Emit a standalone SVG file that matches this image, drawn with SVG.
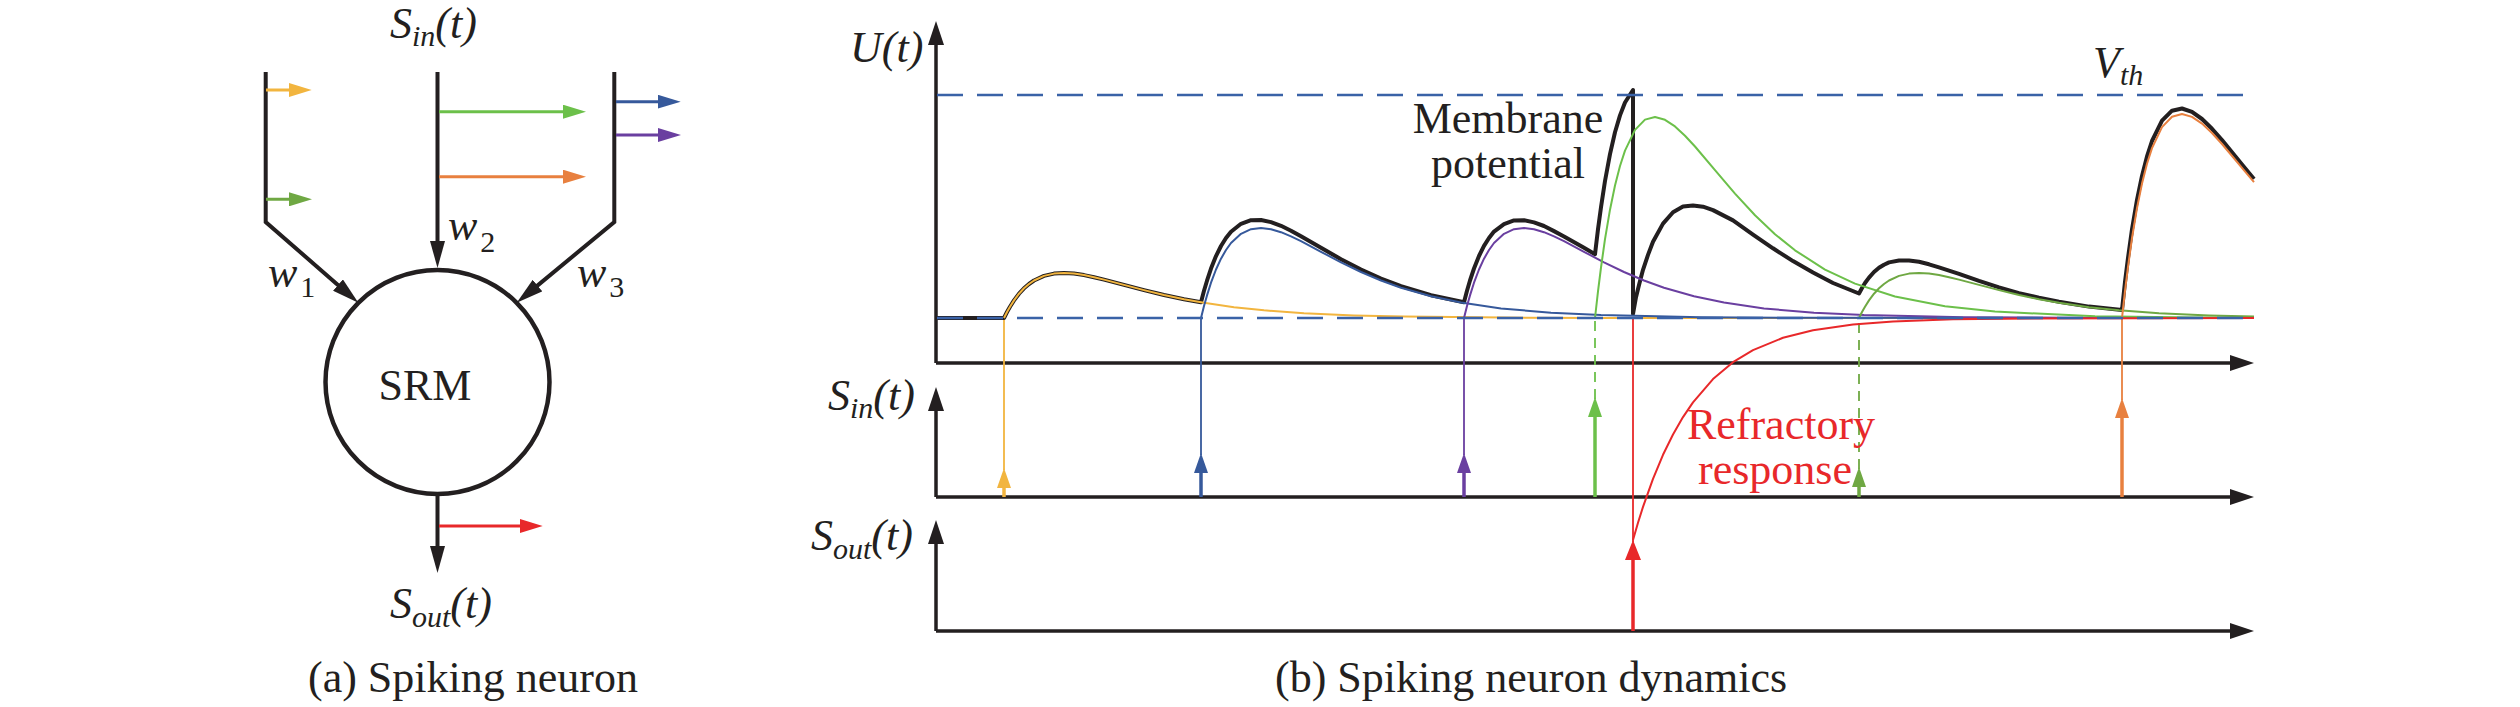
<svg xmlns="http://www.w3.org/2000/svg" width="2520" height="707" viewBox="0 0 2520 707">
<style>
.t{font-family:"Liberation Serif","Times New Roman",serif;fill:#231f20;font-size:44px}
.it{font-style:italic}
.sub{font-size:30px}
.up{font-style:normal}
.red{fill:#e8282a}
.blk{stroke:#231f20;fill:none}
.ax{stroke:#231f20;stroke-width:3.5;fill:none}
.cv{fill:none;stroke-width:2;stroke-linejoin:round}
.dash{fill:none;stroke:#3a62a7;stroke-width:2.6;stroke-dasharray:26 14}
</style>
<defs>
<marker id="mAx" markerUnits="userSpaceOnUse" markerWidth="24" markerHeight="16" refX="14" refY="8" orient="auto"><path d="M0,0 L24,8 L0,16 z" fill="#231f20"/></marker>
<marker id="mBk" markerUnits="userSpaceOnUse" markerWidth="27" markerHeight="15" refX="17" refY="7.5" orient="auto"><path d="M0,0 L27,7.5 L0,15 z" fill="#231f20"/></marker>
<marker id="cY" markerUnits="userSpaceOnUse" markerWidth="23" markerHeight="14" refX="13" refY="7" orient="auto"><path d="M0,0 L23,7 L0,14 z" fill="#f2b53f"/></marker>
<marker id="cG" markerUnits="userSpaceOnUse" markerWidth="23" markerHeight="14" refX="13" refY="7" orient="auto"><path d="M0,0 L23,7 L0,14 z" fill="#6fa843"/></marker>
<marker id="cL" markerUnits="userSpaceOnUse" markerWidth="23" markerHeight="14" refX="13" refY="7" orient="auto"><path d="M0,0 L23,7 L0,14 z" fill="#6cc04a"/></marker>
<marker id="cO" markerUnits="userSpaceOnUse" markerWidth="23" markerHeight="14" refX="13" refY="7" orient="auto"><path d="M0,0 L23,7 L0,14 z" fill="#e8803f"/></marker>
<marker id="cB" markerUnits="userSpaceOnUse" markerWidth="23" markerHeight="14" refX="13" refY="7" orient="auto"><path d="M0,0 L23,7 L0,14 z" fill="#36599b"/></marker>
<marker id="cP" markerUnits="userSpaceOnUse" markerWidth="23" markerHeight="14" refX="13" refY="7" orient="auto"><path d="M0,0 L23,7 L0,14 z" fill="#6a3fa0"/></marker>
<marker id="cR" markerUnits="userSpaceOnUse" markerWidth="23" markerHeight="14" refX="13" refY="7" orient="auto"><path d="M0,0 L23,7 L0,14 z" fill="#e8282a"/></marker>
<marker id="sY" markerUnits="userSpaceOnUse" markerWidth="20" markerHeight="14" refX="10" refY="7" orient="auto"><path d="M0,0 L20,7 L0,14 z" fill="#f2b53f"/></marker>
<marker id="sB" markerUnits="userSpaceOnUse" markerWidth="20" markerHeight="14" refX="10" refY="7" orient="auto"><path d="M0,0 L20,7 L0,14 z" fill="#36599b"/></marker>
<marker id="sP" markerUnits="userSpaceOnUse" markerWidth="20" markerHeight="14" refX="10" refY="7" orient="auto"><path d="M0,0 L20,7 L0,14 z" fill="#6a3fa0"/></marker>
<marker id="sL" markerUnits="userSpaceOnUse" markerWidth="20" markerHeight="14" refX="10" refY="7" orient="auto"><path d="M0,0 L20,7 L0,14 z" fill="#6cc04a"/></marker>
<marker id="sG" markerUnits="userSpaceOnUse" markerWidth="20" markerHeight="14" refX="10" refY="7" orient="auto"><path d="M0,0 L20,7 L0,14 z" fill="#6fa843"/></marker>
<marker id="sO" markerUnits="userSpaceOnUse" markerWidth="20" markerHeight="14" refX="10" refY="7" orient="auto"><path d="M0,0 L20,7 L0,14 z" fill="#e8803f"/></marker>
<marker id="sR" markerUnits="userSpaceOnUse" markerWidth="20" markerHeight="16" refX="10" refY="8" orient="auto"><path d="M0,0 L20,8 L0,16 z" fill="#e8282a"/></marker>
</defs>
<rect width="2520" height="707" fill="#ffffff"/>

<!-- Panel (a) -->
<g id="panel-a">
  <g id="neuron">
    <circle cx="437.5" cy="382" r="112" fill="none" stroke="#231f20" stroke-width="4.5"/>
    <text class="t" x="425" y="400" text-anchor="middle">SRM</text>
  </g>
  <g id="connectors-a" class="blk" stroke-width="4">
    <polyline points="265.7,72 265.7,222 350.8,296.2" marker-end="url(#mBk)"/>
    <line x1="437.5" y1="72" x2="437.5" y2="258" marker-end="url(#mBk)"/>
    <polyline points="614.3,72 614.3,222 524.4,296.4" marker-end="url(#mBk)"/>
    <line x1="437.5" y1="494" x2="437.5" y2="563" marker-end="url(#mBk)"/>
  </g>
  <g id="spike-arrows-a" fill="none" stroke-width="3">
    <line x1="266" y1="90" x2="301.7" y2="90" stroke="#f2b53f" marker-end="url(#cY)"/>
    <line x1="266" y1="199.3" x2="302" y2="199.3" stroke="#6fa843" marker-end="url(#cG)"/>
    <line x1="439" y1="111.7" x2="576" y2="111.7" stroke="#6cc04a" marker-end="url(#cL)"/>
    <line x1="439" y1="176.7" x2="576" y2="176.7" stroke="#e8803f" marker-end="url(#cO)"/>
    <line x1="616" y1="101.7" x2="670.7" y2="101.7" stroke="#36599b" marker-end="url(#cB)"/>
    <line x1="616" y1="135" x2="671" y2="135" stroke="#6a3fa0" marker-end="url(#cP)"/>
    <line x1="439" y1="526" x2="532.7" y2="526" stroke="#e8282a" marker-end="url(#cR)"/>
  </g>
  <g id="labels-a">
    <text class="t it" x="390" y="38">S<tspan class="sub" dy="8">in</tspan><tspan dy="-8">(t)</tspan></text>
    <text class="t it" x="268" y="287">w<tspan class="sub up" dx="3" dy="10">1</tspan></text>
    <text class="t it" x="448" y="240">w<tspan class="sub up" dx="3" dy="12">2</tspan></text>
    <text class="t it" x="577" y="287">w<tspan class="sub up" dx="3" dy="10">3</tspan></text>
    <text class="t it" x="390" y="618">S<tspan class="sub" dy="9">out</tspan><tspan dy="-9">(t)</tspan></text>
    <text class="t" x="308" y="692">(a) Spiking neuron</text>
  </g>
</g>

<!-- Panel (b) -->
<g id="panel-b">
  <g id="axes">
    <path class="ax" d="M936,363 V31" marker-end="url(#mAx)"/>
    <path class="ax" d="M936,363 H2244" marker-end="url(#mAx)"/>
    <path class="ax" d="M936,497 V397" marker-end="url(#mAx)"/>
    <path class="ax" d="M936,497 H2244" marker-end="url(#mAx)"/>
    <path class="ax" d="M936,631 V530" marker-end="url(#mAx)"/>
    <path class="ax" d="M936,631 H2244" marker-end="url(#mAx)"/>
  </g>
  <g id="spikes" fill="none">
    <path d="M1004,497 V478" stroke="#f2b53f" stroke-width="3.5" marker-end="url(#sY)"/>
    <path d="M1004,470 V318" stroke="#f2b53f" stroke-width="1.8"/>
    <path d="M1201,497 V463" stroke="#36599b" stroke-width="3.5" marker-end="url(#sB)"/>
    <path d="M1201,455 V318" stroke="#36599b" stroke-width="1.8"/>
    <path d="M1464,497 V463" stroke="#6a3fa0" stroke-width="3.5" marker-end="url(#sP)"/>
    <path d="M1464,455 V318" stroke="#6a3fa0" stroke-width="1.8"/>
    <path d="M1595,497 V407" stroke="#6cc04a" stroke-width="3.5" marker-end="url(#sL)"/>
    <path d="M1595,399 V318" stroke="#6cc04a" stroke-width="1.8" stroke-dasharray="10 7"/>
    <path d="M1859,497 V477" stroke="#6fa843" stroke-width="3.5" marker-end="url(#sG)"/>
    <path d="M1859,469 V318" stroke="#6fa843" stroke-width="1.8" stroke-dasharray="10 7"/>
    <path d="M2122,497 V408" stroke="#e8803f" stroke-width="3.5" marker-end="url(#sO)"/>
    <path d="M2122,400 V318" stroke="#e8803f" stroke-width="1.8"/>
    <path d="M1633,631 V550" stroke="#e8282a" stroke-width="3.5" marker-end="url(#sR)"/>
    <path d="M1633,542 V318" stroke="#e8282a" stroke-width="1.8"/>
  </g>
  <g id="membrane-potential">
    <polyline fill="none" stroke="#231f20" stroke-width="4" stroke-linejoin="round" points="937,318 1004,318 1007,312.0 1010,306.7 1014,300.4 1019,293.7 1024,288.3 1029,284.0 1034,280.5 1044,275.9 1054,273.6 1064,273.0 1074,273.6 1084,275.1 1094,277.2 1104,279.6 1124,284.9 1144,290.1 1164,295.0 1184,299.2 1201,302.3 1204,290.8 1207,280.7 1211,268.6 1216,256.1 1221,246.0 1226,238.0 1231,231.7 1241,223.8 1251,220.2 1261,220.0 1271,222.1 1281,225.8 1291,230.7 1301,236.2 1321,247.8 1341,259.2 1361,269.6 1381,278.6 1401,286.2 1431,295.2 1464,302.3 1467,290.7 1470,280.5 1474,268.5 1479,256.0 1484,245.9 1489,238.0 1494,231.6 1504,224.1 1514,220.4 1524,220.2 1534,222.4 1544,226.0 1554,231.1 1564,236.4 1584,247.8 1595,254.2 1598,229.2 1601,207.2 1605,181 1610,154.1 1615,132.3 1620,115.4 1625,102.5 1633,90 1633,314 1636,297.2 1639,285.1 1643,269.8 1648,254.9 1653,241.8 1663,223.6 1673,212.2 1683,206.6 1693,205.4 1703,206.7 1713,210.1 1733,220.4 1753,234.6 1773,248.3 1793,261.1 1813,272.6 1833,283 1859,293.5 1862,288 1865,283 1869,277.6 1874,272 1879,267.8 1884,264.7 1889,262.4 1899,260.5 1909,260.4 1919,261.8 1929,264.3 1939,267.4 1949,270.6 1959,273.8 1979,280.9 1999,287.3 2019,293.1 2039,297.8 2059,301.7 2089,306.6 2122,310 2125,282 2128,258 2132,229.4 2137,199.8 2142,175.9 2147,156.4 2152,141 2162,120.6 2172,110.7 2182,108.5 2192,111.9 2202,119 2212,128.8 2222,140.1 2242,164.5 2254,179.1"/>
  </g>
  <g id="psp-curves">
    <polyline class="cv" stroke="#f2b53f" points="1004,318 1007,312.0 1010,306.7 1014,300.4 1019,293.7 1024,288.3 1029,284.0 1034,280.5 1044,275.9 1054,273.6 1064,273.0 1074,273.6 1084,275.1 1094,277.2 1104,279.6 1124,284.9 1144,290.1 1164,295.0 1184,299.2 1204,302.8 1234,307.2 1264,310.3 1304,313.2 1354,315.4 1404,316.6 1504,317.6 1604,317.9 2254,318"/>
    <polyline class="cv" stroke="#36599b" points="1201,318 1204,306.1 1207,295.4 1211,282.7 1216,269.5 1221,258.7 1226,250.0 1231,243.0 1241,233.8 1251,229.2 1261,228.0 1271,229.3 1281,232.2 1291,236.4 1301,241.2 1321,251.8 1341,262.3 1361,272.0 1381,280.5 1401,287.7 1431,296.3 1461,302.6 1501,308.4 1551,312.8 1601,315.1 1701,317.2 1801,317.8 2254,318"/>
    <polyline class="cv" stroke="#6a3fa0" points="1464,318 1467,306.1 1470,295.4 1474,282.7 1479,269.5 1484,258.7 1489,250.0 1494,243.0 1504,233.8 1514,229.2 1524,228.0 1534,229.3 1544,232.2 1554,236.4 1564,241.2 1584,251.8 1604,262.3 1624,272.0 1644,280.5 1664,287.7 1694,296.3 1724,302.6 1764,308.4 1814,312.8 1864,315.1 1964,317.2 2064,317.8 2254,318"/>
    <polyline class="cv" stroke="#6cc04a" points="1595,318 1598,291.3 1601,267.5 1605,239.2 1610,209.7 1615,185.5 1620,166.0 1625,150.6 1635,129.9 1645,119.6 1655,117.0 1665,119.8 1675,126.4 1685,135.7 1695,146.5 1715,170.1 1735,193.6 1755,215.3 1775,234.2 1795,250.3 1825,269.6 1855,283.6 1895,296.5 1945,306.3 1995,311.6 2095,316.2 2195,317.5 2254,318"/>
    <polyline class="cv" stroke="#6fa843" points="1859,318 1862,312.0 1865,306.7 1869,300.4 1874,293.7 1879,288.3 1884,284.0 1889,280.5 1899,275.9 1909,273.6 1919,273.0 1929,273.6 1939,275.1 1949,277.2 1959,279.6 1979,284.9 1999,290.1 2019,295.0 2039,299.2 2059,302.8 2089,307.2 2119,310.3 2159,313.2 2209,315.4 2254,316.4"/>
    <polyline class="cv" stroke="#e8803f" points="2122,318 2125,290.9 2128,266.8 2132,238.0 2137,208.0 2142,183.6 2147,163.8 2152,148.1 2162,127.1 2172,116.7 2182,114.0 2192,116.9 2202,123.6 2212,133.0 2222,144.0 2242,167.9 2254,182.1"/>
    <polyline class="cv" stroke="#e8282a" stroke-width="2.4" points="1633,540 1638,522.8 1643,506.9 1653,478.8 1663,454.8 1673,434.5 1683,417.1 1693,402.4 1713,379.1 1733,362.2 1753,350.1 1783,337.8 1813,330.2 1853,324.4 1893,321.4 1953,319.3 2033,318.4 2254,318"/>
  </g>
  <g id="levels">
    <path class="dash" d="M937,95 H2254"/>
    <path class="dash" d="M937,318 H2254"/>
  </g>
  <g id="labels-b">
    <text class="t it" x="850" y="62">U(t)</text>
    <text class="t it" x="2093" y="77">V<tspan class="sub" dy="8">th</tspan></text>
    <text class="t it" x="828" y="410">S<tspan class="sub" dy="8">in</tspan><tspan dy="-8">(t)</tspan></text>
    <text class="t it" x="811" y="550">S<tspan class="sub" dy="9">out</tspan><tspan dy="-9">(t)</tspan></text>
    <text class="t" x="1508" y="133" text-anchor="middle">Membrane</text>
    <text class="t" x="1508" y="178" text-anchor="middle">potential</text>
    <text class="t red" x="1781" y="439" text-anchor="middle">Refractory</text>
    <text class="t red" x="1775" y="484" text-anchor="middle">response</text>
    <text class="t" x="1275" y="692">(b) Spiking neuron dynamics</text>
  </g>
</g>
</svg>
